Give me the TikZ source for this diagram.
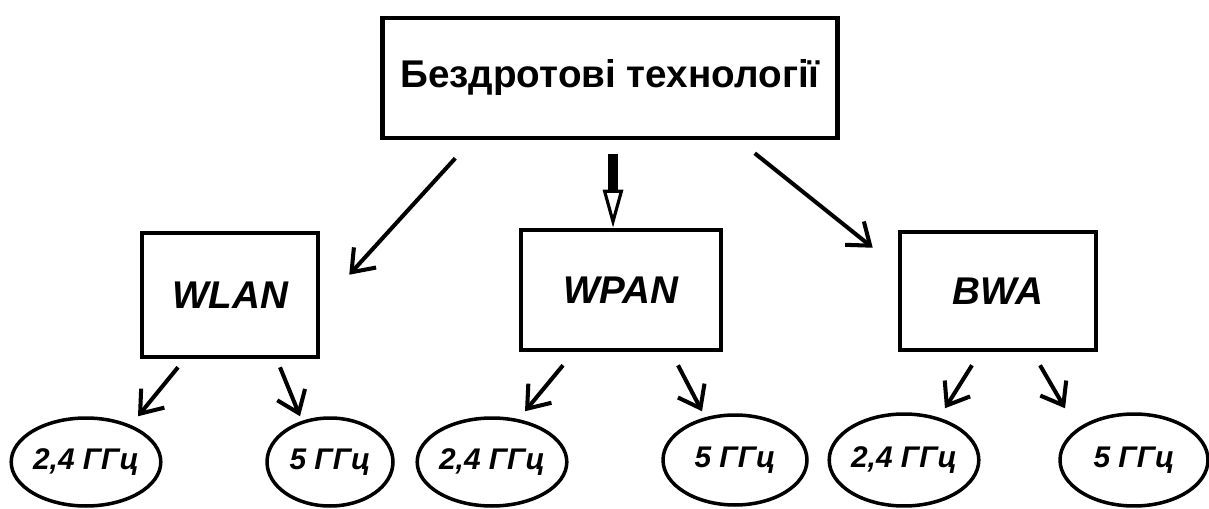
\documentclass[tikz,border=0pt]{standalone}
\usepackage{fontspec}
\setmainfont{Liberation Sans}
\usetikzlibrary{calc}
\usetikzlibrary{arrows.meta}
\usetikzlibrary{shapes.geometric}

\begin{document}
\begin{tikzpicture}[x=0.02cm, y=-0.02cm,
    box/.style={rectangle, draw=black, line width=2.6pt, inner sep=0pt, font=\fontsize{22}{26}\selectfont\bfseries\itshape},
    freq/.style={ellipse, draw=black, line width=2pt, inner sep=0pt, minimum height=1.76cm, font=\fontsize{17}{20}\selectfont\bfseries\itshape},
    arr/.style={line width=2.3pt, -{Straight Barb[length=4mm, width=6mm, line width=2.3pt]}},
    mainarr/.style={line width=5.5pt, -{Triangle[open, length=7.6mm, width=4mm, line width=1.8pt]}}]
    \useasboundingbox (0,0) rectangle (1209,509);

    \node [box, minimum width=9.1cm, minimum height=2.4cm, font=\fontsize{22}{26}\selectfont\bfseries] (tech) at (610,78) {Бездротові технології};
    \node [box, minimum width=3.52cm, minimum height=2.48cm] (wlan) at (230,295) {WLAN};
    \node [box, minimum width=4cm, minimum height=2.4cm] (wpan) at (621,290) {WPAN};
    \node [box, minimum width=3.92cm, minimum height=2.36cm] (bwa) at (998,291) {BWA};

    \node [freq, minimum width=2.84cm] (wlan24) at (86,462) {2,4 ГГц};
    \node [freq, minimum width=2.52cm] (wlan5) at (330,462) {5 ГГц};
    \node [freq, minimum width=2.6cm] (wpan24) at (492,462) {2,4 ГГц};
    \node [freq, minimum width=2.88cm, minimum height=1.8cm] (wpan5) at (735,460) {5 ГГц};
    \node [freq, minimum width=2.76cm, minimum height=1.84cm] (bwa24) at (904,460) {2,4 ГГц};
    \node [freq, minimum width=2.96cm, minimum height=1.84cm] (bwa5) at (1134,460) {5 ГГц};

    \draw [arr] ($(tech.south west)+(75,18)$) -- ($(wlan.north east)+(29,44)$);
    \draw [mainarr] ($(tech.south)+(3,14)$) -- ($(wpan.north)+(-8,0)$);
    \draw [arr] ($(tech.south east)+(-85,13)$) -- ($(bwa.north west)+(-25,18)$);

    \draw [arr] ($(wlan.south)+(-52,8)$) -- ($(wlan24.north)+(52,0)$);
    \draw [arr] ($(wlan.south)+(50,8)$) -- ($(wlan5.north)+(-30,0)$);
    \draw [arr] ($(wpan.south)+(-58,13)$) -- ($(wpan24.north)+(33,-5)$);
    \draw [arr] ($(wpan.south)+(57,13)$) -- ($(wpan5.north)+(-33,-2)$);
    \draw [arr] ($(bwa.south)+(-26,13)$) -- ($(bwa24.north)+(41,-4)$);
    \draw [arr] ($(bwa.south)+(42,13)$) -- ($(bwa5.north)+(-69,-4)$);
\end{tikzpicture}
\end{document}
